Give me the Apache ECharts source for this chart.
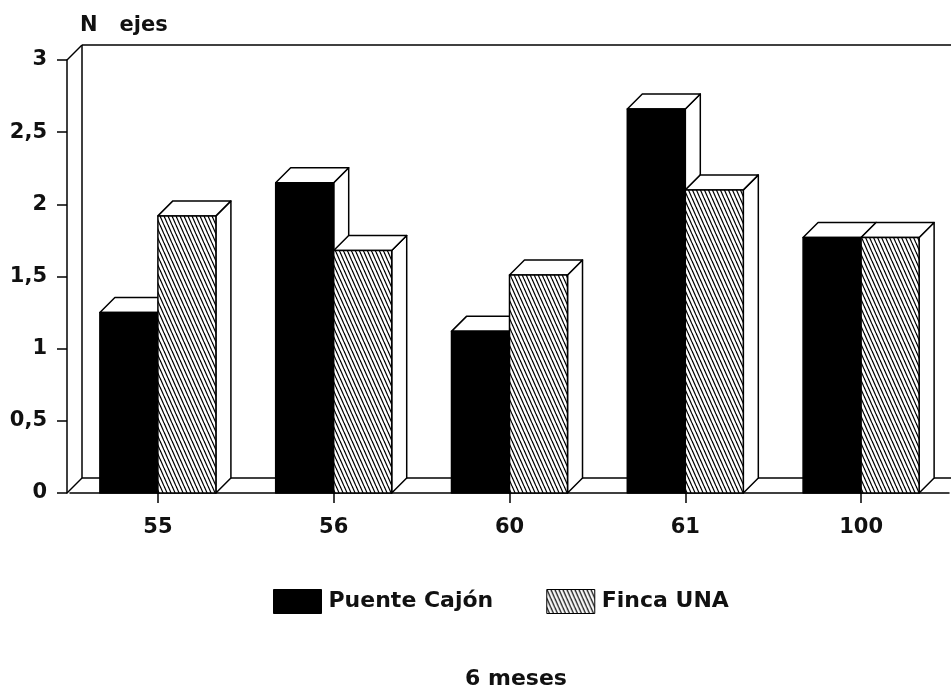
<!DOCTYPE html>
<html>
<head>
<meta charset="utf-8">
<script src="https://cdn.jsdelivr.net/npm/echarts@6/dist/echarts.min.js"></script>
<style>html,body{margin:0;padding:0;background:#fff}#c{width:951px;height:688px}</style>
</head>
<body>
<div id="c"></div>
<script>
const categories = ['55', '56', '60', '61', '100'];
const puenteCajon = [1.25, 2.15, 1.12, 2.66, 1.77];
const fincaUNA = [1.92, 1.68, 1.51, 2.10, 1.77];
const yTicks = [0, 0.5, 1, 1.5, 2, 2.5, 3];

const FONT = 'DejaVu Sans';
const FW = 'bold';
const DEPTH = 15;

const pc = document.createElement('canvas');
pc.width = 4; pc.height = 9;
const g = pc.getContext('2d');
g.fillStyle = '#fff'; g.fillRect(0, 0, 4, 9);
g.strokeStyle = '#000'; g.lineWidth = 1.2;
for (const off of [-4, 0, 4]) { g.beginPath(); g.moveTo(off, 0); g.lineTo(off + 4, 9); g.stroke(); }
const hatch = { image: pc, repeat: 'repeat' };

function makeRender(side, fill) {
  return function (params, api) {
    const ci = api.value(0), v = api.value(1);
    const base = api.coord([ci, 0]);
    const top = api.coord([ci, v]);
    const band = api.size([1, 0])[0];
    const bw = band * 0.33;
    const x0 = side === 0 ? base[0] - bw : base[0];
    const x1 = x0 + bw;
    const yb = base[1], yt = top[1];
    const d = DEPTH;
    const st = { stroke: '#000', lineWidth: 1.5, lineJoin: 'round' };
    return {
      type: 'group', children: [
        { type: 'polygon', shape: { points: [[x1, yb], [x1 + d, yb - d], [x1 + d, yt - d], [x1, yt]] }, style: Object.assign({ fill: '#fff' }, st) },
        { type: 'polygon', shape: { points: [[x0, yt], [x0 + d, yt - d], [x1 + d, yt - d], [x1, yt]] }, style: Object.assign({ fill: '#fff' }, st) },
        { type: 'rect', shape: { x: x0, y: yt, width: bw, height: yb - yt }, style: Object.assign({ fill: fill }, st) }
      ]
    };
  };
}

function renderFrame(params, api) {
  const cs = params.coordSys;
  const d = DEPTH;
  const fx = cs.x - 3;
  const yT = cs.y, yB = cs.y + cs.height;
  const W = cs.x + cs.width + 40;
  const st = { stroke: '#000', lineWidth: 1.5, fill: null };
  const line = (a, b) => ({ type: 'line', shape: { x1: a[0], y1: a[1], x2: b[0], y2: b[1] }, style: st });
  return {
    type: 'group', children: [
      line([fx, yT], [fx + d, yT - d]),
      line([fx + d, yT - d], [W, yT - d]),
      line([fx + d, yT - d], [fx + d, yB - d]),
      line([fx, yB], [fx + d, yB - d]),
      line([fx + d, yB - d], [W, yB - d])
    ]
  };
}

const chart = echarts.init(document.getElementById('c'));
chart.setOption({
  animation: false,
  backgroundColor: '#fff',
  textStyle: { fontFamily: FONT },
  title: [
    { text: 'N   ejes', left: 75, top: 10, textStyle: { fontFamily: FONT, fontSize: 21, fontWeight: FW, color: '#111' } },
    { text: '6 meses', left: 460, top: 663, textStyle: { fontFamily: FONT, fontSize: 22, fontWeight: FW, color: '#111' } }
  ],
  grid: { left: 70, right: 2, top: 60, bottom: 195, containLabel: false },
  legend: {
    left: 268, top: 584, itemWidth: 48, itemHeight: 24, itemGap: 53,
    textStyle: { fontFamily: FONT, fontSize: 22, fontWeight: FW, color: '#111', padding: [0, 0, 0, 2] },
    data: [
      { name: 'Puente Cajón', icon: 'rect', itemStyle: { color: '#000', borderColor: '#000', borderWidth: 1 } },
      { name: 'Finca UNA', icon: 'rect', itemStyle: { color: hatch, borderColor: '#000', borderWidth: 1 } }
    ]
  },
  xAxis: {
    type: 'category', data: categories, boundaryGap: true,
    axisLine: { show: true, lineStyle: { color: '#000', width: 1.5 } },
    axisTick: { show: true, alignWithLabel: true, length: 10, lineStyle: { color: '#000', width: 1.5 } },
    axisLabel: { margin: 24, fontFamily: FONT, fontSize: 21, fontWeight: FW, color: '#111' },
    splitLine: { show: false }
  },
  yAxis: {
    type: 'value', min: 0, max: 3, interval: 0.5, offset: 3,
    axisLine: { show: true, lineStyle: { color: '#000', width: 1.5 } },
    axisTick: { show: true, length: 10, lineStyle: { color: '#000', width: 1.5 } },
    axisLabel: { margin: 20, fontFamily: FONT, fontSize: 21, fontWeight: FW, color: '#111',
      formatter: v => yTicks.includes(v) ? String(v).replace('.', ',') : '' },
    splitLine: { show: false }
  },
  series: [
    { type: 'custom', name: 'frame', silent: true, z: 1, renderItem: renderFrame, data: [[0, 0]] },
    { type: 'custom', name: 'Puente Cajón', z: 2, itemStyle: { color: '#000' }, renderItem: makeRender(0, '#000'),
      data: puenteCajon.map((v, i) => [i, v]) },
    { type: 'custom', name: 'Finca UNA', z: 3, itemStyle: { color: '#888' }, renderItem: makeRender(1, hatch),
      data: fincaUNA.map((v, i) => [i, v]) }
  ]
});
</script>
</body>
</html>
